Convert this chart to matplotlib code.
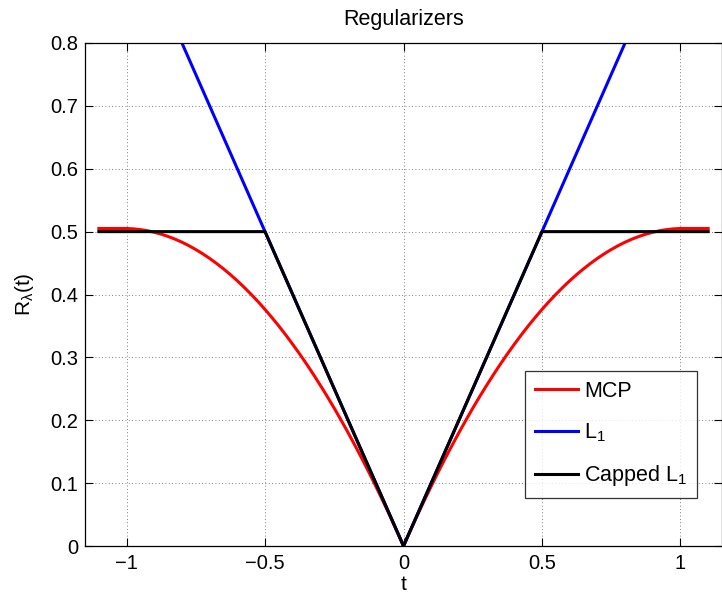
import matplotlib
matplotlib.use("Agg")
import matplotlib.pyplot as plt

plt.rcParams['font.family'] = ['Liberation Sans', 'DejaVu Sans']
plt.rcParams['mathtext.fontset'] = 'custom'
plt.rcParams['mathtext.rm'] = 'Liberation Sans'
plt.rcParams['mathtext.it'] = 'Liberation Sans'
plt.rcParams['mathtext.bf'] = 'Liberation Sans:bold'

# Data
t_mcp = [-1.1, -1.075, -1.05, -1.025, -1.0, -0.975, -0.95, -0.925, -0.9, -0.875,
         -0.85, -0.825, -0.8, -0.775, -0.75, -0.725, -0.7, -0.675, -0.65, -0.625,
         -0.6, -0.575, -0.55, -0.525, -0.5, -0.475, -0.45, -0.425, -0.4, -0.375,
         -0.35, -0.325, -0.3, -0.275, -0.25, -0.225, -0.2, -0.175, -0.15, -0.125,
         -0.1, -0.075, -0.05, -0.025, 0.0,
         0.025, 0.05, 0.075, 0.1, 0.125, 0.15, 0.175, 0.2, 0.225, 0.25,
         0.275, 0.3, 0.325, 0.35, 0.375, 0.4, 0.425, 0.45, 0.475, 0.5,
         0.525, 0.55, 0.575, 0.6, 0.625, 0.65, 0.675, 0.7, 0.725, 0.75,
         0.775, 0.8, 0.825, 0.85, 0.875, 0.9, 0.925, 0.95, 0.975, 1.0,
         1.025, 1.05, 1.075, 1.1]
r_mcp = [0.505, 0.505, 0.505, 0.505, 0.505, 0.5044, 0.5032, 0.5014, 0.4990, 0.4960,
         0.4923, 0.4881, 0.4832, 0.4777, 0.4715, 0.4648, 0.4574, 0.4494, 0.4408, 0.4316,
         0.4218, 0.4113, 0.4002, 0.3886, 0.3762, 0.3633, 0.3498, 0.3356, 0.3208, 0.3054,
         0.2894, 0.2727, 0.2554, 0.2376, 0.2191, 0.1999, 0.1802, 0.1598, 0.1389, 0.1173,
         0.0950, 0.0722, 0.0488, 0.0247, 0.0,
         0.0247, 0.0488, 0.0722, 0.0950, 0.1173, 0.1389, 0.1598, 0.1802, 0.1999, 0.2191,
         0.2376, 0.2554, 0.2727, 0.2894, 0.3054, 0.3208, 0.3356, 0.3498, 0.3633, 0.3762,
         0.3886, 0.4002, 0.4113, 0.4218, 0.4316, 0.4408, 0.4494, 0.4574, 0.4648, 0.4715,
         0.4777, 0.4832, 0.4881, 0.4923, 0.4960, 0.4990, 0.5014, 0.5032, 0.5044, 0.505,
         0.505, 0.505, 0.505, 0.505]
t_l1 = [-1.1, 0.0, 1.1]
r_l1 = [1.1, 0.0, 1.1]
t_cap = [-1.1, -0.5, 0.0, 0.5, 1.1]
r_cap = [0.5, 0.5, 0.0, 0.5, 0.5]
labels = ['MCP', 'L$_1$', 'Capped L$_1$']
xticks = [-1, -0.5, 0, 0.5, 1]
xticklabels = ['\u22121', '\u22120.5', '0', '0.5', '1']
yticks = [0, 0.1, 0.2, 0.3, 0.4, 0.5, 0.6, 0.7, 0.8]
yticklabels = ['0', '0.1', '0.2', '0.3', '0.4', '0.5', '0.6', '0.7', '0.8']

fig = plt.figure(figsize=(7.22, 5.96), dpi=100)
ax = fig.add_axes([85/722, 1-546/596, (722-85)/722, (546-43)/596])

ax.plot(t_mcp, r_mcp, color='#ff0000', lw=2.2, label=labels[0])
ax.plot(t_l1, r_l1, color='#0000ff', lw=2.2, label=labels[1])
ax.plot(t_cap, r_cap, color='#000000', lw=2.2, label=labels[2])

ax.set_xlim(-1.15, 1.15)
ax.set_ylim(0, 0.8)
ax.set_xticks(xticks)
ax.set_xticklabels(xticklabels)
ax.set_yticks(yticks)
ax.set_yticklabels(yticklabels)
ax.tick_params(direction='in', top=True, right=True, length=6, width=0.8,
               labelsize=14.5)
ax.tick_params(axis='y', pad=5)
ax.tick_params(axis='x', pad=6)
ax.grid(True, linestyle=(0, (1, 3)), color='#555555', linewidth=0.6)
for s in ax.spines.values():
    s.set_linewidth(0.9)

ax.set_title('Regularizers', fontsize=15.5, pad=13)
ax.set_xlabel('t', fontsize=15, labelpad=1)
ax.set_ylabel('R$_\\lambda$(t)', fontsize=15, labelpad=10)

leg = ax.legend(loc='lower right', bbox_to_anchor=((697-85)/637, (546-498)/503),
                fontsize=15.5, frameon=True, fancybox=False, edgecolor='black',
                handlelength=2.0, handletextpad=0.3, labelspacing=0.9,
                borderpad=0.45, borderaxespad=0)
leg.get_frame().set_linewidth(0.9)

fig.savefig('out.png', dpi=100)
